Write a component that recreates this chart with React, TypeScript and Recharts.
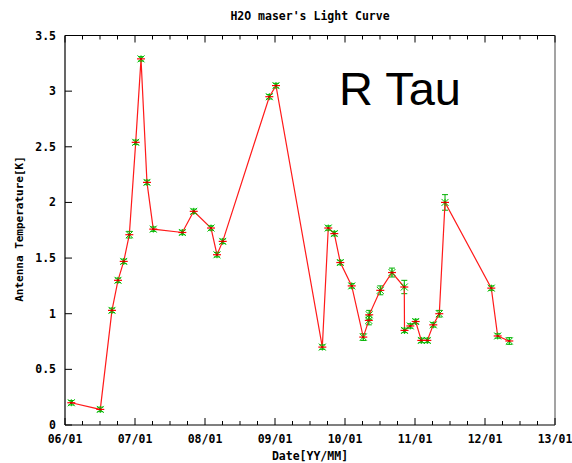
import React from 'react';
import { LineChart, Line, XAxis, YAxis, ErrorBar } from 'recharts';

const obsDates = [
  2006.09, 2006.504, 2006.671, 2006.757, 2006.839, 2006.919, 2007.01, 2007.086,
  2007.171, 2007.261, 2007.676, 2007.839, 2008.086, 2008.171, 2008.253, 2008.919,
  2009.014, 2009.676, 2009.761, 2009.847, 2009.933, 2010.096, 2010.261, 2010.34,
  2010.346, 2010.504, 2010.671, 2010.847, 2010.85, 2010.933, 2011.01, 2011.09,
  2011.176, 2011.261, 2011.347, 2011.429, 2012.09, 2012.181, 2012.347,
];
// antenna temperature [K]
const tempK = [
  0.2, 0.14, 1.03, 1.3, 1.47, 1.71, 2.54, 3.29,
  2.18, 1.76, 1.73, 1.92, 1.77, 1.53, 1.65, 2.95,
  3.05, 0.7, 1.77, 1.72, 1.46, 1.25, 0.79, 0.94,
  0.99, 1.21, 1.37, 1.24, 0.85, 0.89, 0.93, 0.76,
  0.76, 0.9, 1.0, 2.0, 1.23, 0.8, 0.755,
];
const tempErr = [
  0.02, 0.02, 0.02, 0.02, 0.02, 0.03, 0.02, 0.02,
  0.02, 0.02, 0.02, 0.02, 0.02, 0.02, 0.02, 0.02,
  0.02, 0.02, 0.02, 0.02, 0.02, 0.02, 0.03, 0.04,
  0.04, 0.04, 0.04, 0.06, 0.02, 0.02, 0.02, 0.02,
  0.02, 0.02, 0.03, 0.07, 0.02, 0.02, 0.03,
];
const yearTicks = ['06/01', '07/01', '08/01', '09/01', '10/01', '11/01', '12/01', '13/01'];
const yTicks = [0, 0.5, 1, 1.5, 2, 2.5, 3, 3.5];

const FONT = '"DejaVu Sans Mono", monospace';

const data = obsDates.map((d, i) => ({ date: d, temp: tempK[i], err: tempErr[i] }));

// quarterly ticks, labelled only on the year
const xTicks: number[] = [];
for (let q = 0; q <= 28; q++) xTicks.push(2006 + q / 4);

const isMajor = (v: number) => Math.abs(v - Math.round(v)) < 1e-6;

const BottomTick = (props: any) => {
  const { x, y, payload } = props;
  const v = payload.value;
  const major = isMajor(v);
  return (
    <g>
      <line x1={x} x2={x} y1={y} y2={y - (major ? 7 : 4)} stroke="#000" strokeWidth={1} />
      {major && (
        <text x={x} y={y + 18} textAnchor="middle" fontFamily={FONT} fontWeight="bold" fontSize={11.5} fill="#000">
          {yearTicks[Math.round(v) - 2006]}
        </text>
      )}
    </g>
  );
};

const TopTick = (props: any) => {
  const { x, y, payload } = props;
  const major = isMajor(payload.value);
  return <line x1={x} x2={x} y1={y} y2={y + (major ? 7 : 4)} stroke="#000" strokeWidth={1} />;
};

const LeftTick = (props: any) => {
  const { x, y, payload } = props;
  return (
    <g>
      <line x1={x} x2={x + 7} y1={y} y2={y} stroke="#000" strokeWidth={1} />
      <text x={x - 9} y={y + 4} textAnchor="end" fontFamily={FONT} fontWeight="bold" fontSize={11.5} fill="#000">
        {payload.value}
      </text>
    </g>
  );
};

const RightTick = (props: any) => {
  const { x, y } = props;
  return <line x1={x} x2={x - 7} y1={y} y2={y} stroke="#000" strokeWidth={1} />;
};

const StarDot = (props: any) => {
  const { cx, cy } = props;
  if (cx == null || cy == null) return null;
  const s = 3.5;
  return (
    <g>
      <line x1={cx - s} x2={cx + s} y1={cy - s} y2={cy + s} stroke="#00c000" strokeWidth={1} />
      <line x1={cx - s} x2={cx + s} y1={cy + s} y2={cy - s} stroke="#00c000" strokeWidth={1} />
      <line x1={cx} x2={cx} y1={cy - s} y2={cy + s} stroke="#00c000" strokeWidth={1} />
      <line x1={cx - 4} x2={cx + 4} y1={cy} y2={cy} stroke="#ff0000" strokeWidth={1.2} />
      <rect x={cx - 1} y={cy - 1} width={2} height={2} fill="#cc0000" />
    </g>
  );
};

export default function App() {
  return (
    <div style={{ position: 'absolute', left: 0, top: 0, width: 572, height: 463, background: '#fff' }}>
      <LineChart
        width={572}
        height={463}
        data={data}
        margin={{ top: 34.5, right: 16, bottom: 8, left: 20 }}
      >
        <XAxis
          xAxisId="bottom"
          dataKey="date"
          type="number"
          domain={[2006, 2013]}
          ticks={xTicks}
          interval={0}
          height={30}
          tickSize={0}
          tickMargin={0}
          tickLine={false}
          axisLine={{ stroke: '#000', strokeWidth: 1.2 }}
          tick={<BottomTick />}
          allowDataOverflow
        />
        <XAxis
          xAxisId="top"
          orientation="top"
          dataKey="date"
          type="number"
          domain={[2006, 2013]}
          ticks={xTicks}
          interval={0}
          height={1}
          tickSize={0}
          tickMargin={0}
          tickLine={false}
          axisLine={{ stroke: '#000', strokeWidth: 1.2 }}
          tick={<TopTick />}
        />
        <YAxis
          yAxisId="left"
          type="number"
          domain={[0, 3.5]}
          ticks={yTicks}
          interval={0}
          width={45}
          tickSize={0}
          tickMargin={0}
          tickLine={false}
          axisLine={{ stroke: '#000', strokeWidth: 1.2 }}
          tick={<LeftTick />}
        />
        <YAxis
          yAxisId="right"
          orientation="right"
          type="number"
          domain={[0, 3.5]}
          ticks={yTicks}
          interval={0}
          width={1}
          tickSize={0}
          tickMargin={0}
          tickLine={false}
          axisLine={{ stroke: '#666', strokeWidth: 1.2 }}
          tick={<RightTick />}
        />
        <Line
          xAxisId="bottom"
          yAxisId="left"
          type="linear"
          dataKey="temp"
          stroke="#ff1a1a"
          strokeWidth={1.2}
          dot={<StarDot />}
          activeDot={false}
          isAnimationActive={false}
        >
          <ErrorBar dataKey="err" direction="y" width={3} stroke="#00b000" strokeWidth={1} isAnimationActive={false} />
        </Line>
      </LineChart>
      <div
        style={{
          position: 'absolute', left: 0, width: 620, top: 9, textAlign: 'center',
          fontFamily: FONT, fontWeight: 'bold', fontSize: 11.5, lineHeight: '14px', color: '#000',
        }}
      >
        H2O maser's Light Curve
      </div>
      <div style={{ position: 'absolute', left: 20, top: 229, width: 0, height: 0 }}>
        <div
          style={{
            position: 'absolute', left: 0, top: 0, transform: 'translate(-50%, -50%) rotate(-90deg)',
            whiteSpace: 'nowrap', fontFamily: FONT, fontWeight: 'bold', fontSize: 11, lineHeight: '12px', color: '#000',
          }}
        >
          Antenna Temperature[K]
        </div>
      </div>
      <div
        style={{
          position: 'absolute', left: 0, width: 620, top: 449, textAlign: 'center',
          fontFamily: FONT, fontWeight: 'bold', fontSize: 11.5, lineHeight: '14px', color: '#000',
        }}
      >
        Date[YY/MM]
      </div>
      <div
        style={{
          position: 'absolute', left: 339, top: 62, fontFamily: '"Liberation Sans", Arial, sans-serif',
          fontSize: 47, lineHeight: '54px', color: '#000', whiteSpace: 'nowrap',
        }}
      >
        R Tau
      </div>
    </div>
  );
}
